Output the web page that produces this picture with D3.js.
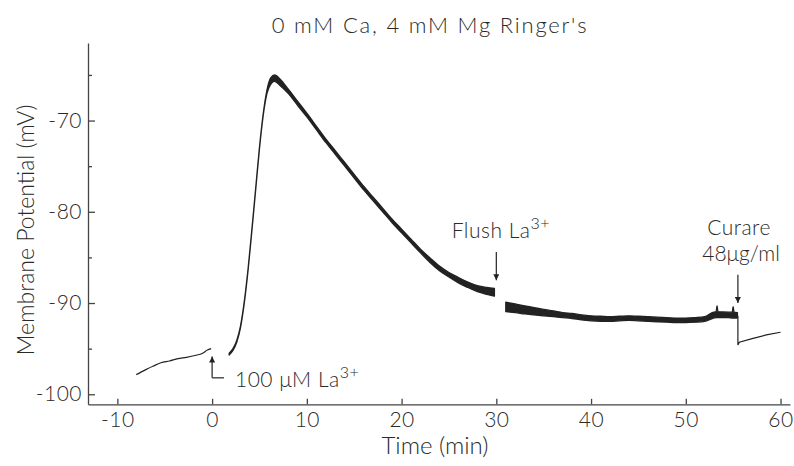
<!DOCTYPE html>
<html>
<head>
<meta charset="utf-8">
<script src="https://cdn.jsdelivr.net/npm/d3@7"></script>
<style>
body { margin: 0; background: #fff; }
text { font-family: Lato, "Noto Sans", sans-serif; font-weight: 300; fill: #2a2a2a; }
</style>
</head>
<body>
<div id="chart"></div>
<script>
// tick values
var xTicks = [-10, 0, 10, 20, 30, 40, 50, 60];
var yTicks = [-100, -90, -80, -70];
var yMinor = [-95, -85, -75, -65];

// trace before La3+ : [time (min), mV]
var preLa = [[-8.0, -97.85], [-7.0, -97.3], [-6.2, -96.9], [-5.4, -96.55], [-4.5, -96.35],
  [-3.6, -96.1], [-2.7, -95.95], [-1.8, -95.75], [-1.0, -95.5], [-0.5, -95.15], [-0.1, -95.0]];

// response to 100 uM La3+ : [time, low edge, high edge] of the noisy trace
var laResponse = [[1.8, -95.7, -95.5], [2.2, -95.2, -95.0], [2.6, -94.3, -94.1], [3.0, -92.7, -92.5],
  [3.4, -90.0, -89.8], [3.8, -86.4, -86.2], [4.2, -82.1, -81.9], [4.6, -77.6, -77.4],
  [5.0, -73.1, -72.9], [5.4, -69.4, -69.2], [5.8, -67.0, -66.6], [6.2, -66.0, -65.3],
  [6.6, -65.7, -65.0], [7.2, -66.2, -65.5], [8.0, -67.0, -66.5], [9.0, -68.3, -67.85],
  [10.0, -69.6, -69.2], [11.0, -71.0, -70.6], [12.0, -72.4, -72.0], [13.0, -73.7, -73.3],
  [14.0, -75.0, -74.6], [15.0, -76.3, -75.9], [16.0, -77.6, -77.2], [17.0, -78.8, -78.4],
  [18.0, -80.0, -79.6], [19.0, -81.2, -80.8], [20.0, -82.3, -81.9], [21.0, -83.4, -83.0],
  [22.0, -84.5, -84.1], [23.0, -85.55, -85.05], [24.0, -86.45, -85.95], [25.0, -87.15, -86.65],
  [26.0, -87.8, -87.2], [27.0, -88.3, -87.7], [28.0, -88.75, -88.1], [29.0, -89.05, -88.3],
  [29.8, -89.25, -88.4]];

// after the flush
var afterFlush = [[31.0, -90.95, -89.9], [32.0, -91.05, -90.1], [33.0, -91.2, -90.3], [34.0, -91.3, -90.5],
  [35.0, -91.4, -90.7], [36.0, -91.5, -90.85], [37.0, -91.6, -91.05], [38.0, -91.7, -91.15],
  [39.0, -91.85, -91.3], [40.0, -91.95, -91.4], [41.0, -92.0, -91.45], [42.0, -92.0, -91.5],
  [43.0, -91.95, -91.45], [44.0, -91.9, -91.4], [45.0, -91.95, -91.45], [46.0, -92.0, -91.5],
  [47.0, -92.05, -91.55], [48.0, -92.1, -91.6], [49.0, -92.15, -91.65], [50.0, -92.15, -91.65],
  [51.0, -92.1, -91.6], [52.0, -92.0, -91.5], [52.8, -91.7, -91.05], [53.2, -91.6, -90.95],
  [53.3, -91.6, -90.3], [53.4, -91.6, -90.95], [54.5, -91.6, -91.0], [54.9, -91.65, -91.0],
  [55.0, -91.65, -90.4], [55.1, -91.65, -91.0], [55.45, -91.65, -91.05]];

// after curare (drop, then slow recovery)
var afterCurare = [[55.5, -91.4], [55.5, -94.6], [55.65, -94.3], [57.0, -93.9], [58.5, -93.5], [60.0, -93.2]];

// arrows : [time, from mV, to mV]
var arrows = [[0, -98.2, -95.85], [30, -84.4, -87.5], [55.5, -86.9, -90.0]];

var width = 794, height = 466;
var svg = d3.select('#chart').append('svg')
	.attr('width', width).attr('height', height);

var x = d3.scaleLinear().domain([-13.1, 61]).range([88, 790]);
var y = d3.scaleLinear().domain([-101.1, -61.5]).range([404.3, 43]);

var axisColor = '#444';

// x axis, ticks pointing inward
svg.append('g')
	.attr('transform', 'translate(0,' + y.range()[0] + ')')
	.call(d3.axisBottom(x).tickValues(xTicks).tickSize(-5.5).tickSizeOuter(0).tickPadding(8)
		.tickFormat(function(d) { return String(d); }));

// y axis
svg.append('g')
	.attr('transform', 'translate(' + x.range()[0] + ',0)')
	.call(d3.axisLeft(y).tickValues(yTicks).tickSize(-7).tickSizeOuter(0).tickPadding(6)
		.tickFormat(function(d) { return String(d); }));
svg.append('g')
	.attr('transform', 'translate(' + x.range()[0] + ',0)')
	.call(d3.axisLeft(y).tickValues(yMinor).tickSize(-4).tickSizeOuter(0).tickFormat(''))
	.select('.domain').remove();

svg.selectAll('.domain, .tick line').attr('stroke', axisColor).attr('stroke-width', 1.3);
svg.selectAll('.tick text').style('font-size', '21px').style('letter-spacing', '0.5px');

// trace
var line = d3.line().x(function(d) { return x(d[0]); }).y(function(d) { return y(d[1]); });
var band = d3.area().x(function(d) { return x(d[0]); })
	.y0(function(d) { return y(d[1]); })
	.y1(function(d) { return y(d[2]); })
	.curve(d3.curveMonotoneX);

svg.append('path').datum(preLa).attr('d', line.curve(d3.curveMonotoneX))
	.attr('fill', 'none').attr('stroke', '#222').attr('stroke-width', 1.2);
[laResponse, afterFlush].forEach(function(seg) {
	svg.append('path').datum(seg).attr('d', band)
		.attr('fill', '#222').attr('stroke', '#222').attr('stroke-width', 1.3)
		.attr('stroke-linejoin', 'round');
});
svg.append('path').datum(afterCurare).attr('d', line.curve(d3.curveLinear))
	.attr('fill', 'none').attr('stroke', '#222').attr('stroke-width', 1.2);

// arrow heads
svg.append('defs').append('marker')
	.attr('id', 'head')
	.attr('viewBox', '0 0 10 10')
	.attr('refX', 10).attr('refY', 5)
	.attr('markerUnits', 'userSpaceOnUse')
	.attr('markerWidth', 9).attr('markerHeight', 6)
	.attr('orient', 'auto')
	.append('path').attr('d', 'M0,0L10,5L0,10z').attr('fill', '#222');

svg.selectAll('.arrow')
	.data(arrows)
	.enter()
	.append('line')
	.attr('class', 'arrow')
	.attr('x1', function(d) { return x(d[0]); })
	.attr('x2', function(d) { return x(d[0]); })
	.attr('y1', function(d) { return y(d[1]); })
	.attr('y2', function(d) { return y(d[2]); })
	.attr('stroke', '#222').attr('stroke-width', 1.2)
	.attr('marker-end', 'url(#head)');

// foot of the La3+ arrow
svg.append('line')
	.attr('x1', x(0)).attr('x2', x(1.25))
	.attr('y1', y(-98.2)).attr('y2', y(-98.2))
	.attr('stroke', '#222').attr('stroke-width', 1.2);

// labels
function sup(t, base, exp, size) {
	t.append('tspan').text(base);
	t.append('tspan').attr('dy', -9).style('font-size', size + 'px').text(exp);
}

var t1 = svg.append('text').attr('x', 235).attr('y', 386.7)
	.style('font-size', '21px').style('letter-spacing', '0.5px');
sup(t1, '100 \u03bcM La', '3+', 16);

var t2 = svg.append('text').attr('x', 451.7).attr('y', 238.3)
	.style('font-size', '21px').style('letter-spacing', '0.5px');
sup(t2, 'Flush La', '3+', 16);

svg.append('text').attr('x', 739).attr('y', 235).attr('text-anchor', 'middle')
	.style('font-size', '21px').style('letter-spacing', '0.5px').text('Curare');
svg.append('text').attr('x', 741).attr('y', 261).attr('text-anchor', 'middle')
	.style('font-size', '21px').text('48\u03bcg/ml');

svg.append('text').attr('x', 430).attr('y', 32.7).attr('text-anchor', 'middle')
	.style('font-size', '22px').style('letter-spacing', '1.8px')
	.text("0 mM Ca, 4 mM Mg Ringer's");

svg.append('text').attr('x', 435).attr('y', 454.3).attr('text-anchor', 'middle')
	.style('font-size', '24px').text('Time (min)');

svg.append('text')
	.attr('transform', 'translate(34,230) rotate(-90)')
	.attr('text-anchor', 'middle')
	.style('font-size', '23px').text('Membrane Potential (mV)');
</script>
</body>
</html>
